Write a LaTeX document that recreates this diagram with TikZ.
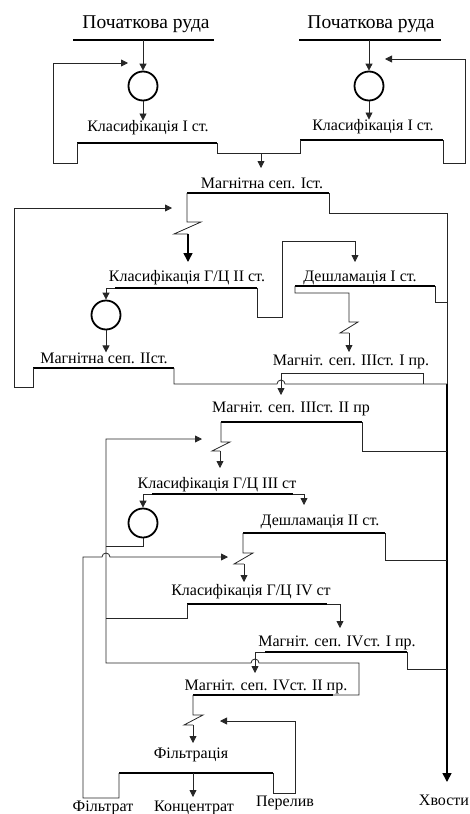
\documentclass[tikz,border=0pt]{standalone}
\usepackage{fontspec}
\setmainfont{Liberation Serif}
\usetikzlibrary{arrows.meta}

\begin{document}
\begin{tikzpicture}[x=1pt,y=-1pt,
  prod/.style={line width=1.6pt},
  flow/.style={line width=0.8pt, black!85},
  feed/.style={flow, -{Triangle[length=7pt,width=7pt]}},
  feedT/.style={prod, -{Triangle[length=9pt,width=9pt]}},
  mill/.style={circle, draw, line width=1.8pt, minimum size=29pt, inner sep=0pt},
  lbl/.style={font=\fontsize{16}{18}\selectfont, inner sep=0pt},
  big/.style={font=\fontsize{19.5}{22}\selectfont, inner sep=0pt}]
\useasboundingbox (0,0) rectangle (470,814);
% feed ore
\node[big] (oreL) at (146,24) {Початкова руда};
\node[big] (oreR) at (371,24) {Початкова руда};
\coordinate (oreLa) at (73,40); \coordinate (oreLb) at (214,40);
\coordinate (oreRa) at (299,40); \coordinate (oreRb) at (441,40);
\draw[prod] (oreLa) -- (oreLb);
\draw[prod] (oreRa) -- (oreRb);
% mills, stage I
\node[mill] (millL) at (143,86) {};
\node[mill] (millR) at (369,86) {};
\draw[feed] (millL |- oreLa) -- (millL.north);
\draw[feed] (millR |- oreRa) -- (millR.north);
% classification, stage I
\node[lbl] (clsL) at (148,128) {Класифікація I ст.};
\node[lbl] (clsR) at (373,127) {Класифікація I ст.};
\coordinate (clsLa) at (77,143); \coordinate (clsLb) at (217,143);
\coordinate (clsRa) at (300,140); \coordinate (clsRb) at (443,140);
\draw[prod] (clsLa) -- (clsLb);
\draw[prod] (clsRa) -- (clsRb);
\draw[feed] (millL.south) -- (millL |- clsL.north);
\draw[feed] (millR.south) -- (millR |- clsR.north);
% sands back to the mills
\coordinate (inL) at (128,63); \coordinate (inR) at (385,59);
\draw[feed] (clsLa) -- ++(0,20) -- ++(-24,0) |- (inL);
\draw[feed] (clsRb) -- ++(0,23) -- ++(22,0) |- (inR);
% overflow to magnetic sep. I
\coordinate (ovf1) at (261,153);
\draw[flow] (clsLb) -- ++(0,10) -| (clsRa);
\draw[feed] (ovf1) -- ++(0,15);
% magnetic sep. I
\node[lbl] (ms1) at (262,183) {Магнітна сеп. Іст.};
\coordinate (ms1a) at (187,193); \coordinate (ms1b) at (329,193);
\coordinate (tail) at (447,213); \coordinate (tailj) at (447,384);
\draw[prod] (ms1a) -- (ms1b);
\draw[flow] (ms1b) |- (tail) -- (tailj);
\draw[feedT] (tailj) -- (447,782);
\node[lbl] (tails) at (444,800) {Хвости};
\draw[flow] (ms1a) -- ++(0,29) -- ++(14,0) -- ++(-27,12) -- ++(14,0) coordinate (z1);
\draw[feedT] (z1) -- ++(0,28);
% hydrocyclones II
\node[lbl] (hc2) at (187,278) {Класифікація Г/Ц II ст.};
\coordinate (hc2a) at (115,288); \coordinate (hc2b) at (257,288);
\draw[prod] (hc2a) -- (hc2b);
\node[mill] (mill2) at (106,315) {};
\draw[feed] (hc2a) -| (mill2.north);
\draw[feed] (hc2b) -- ++(0,29) -- ++(25,0) |- (355,241) -- ++(0,21);
% desliming I
\node[lbl] (dsl1) at (360,278) {Дешламація I ст.};
\coordinate (dsl1a) at (295,286); \coordinate (dsl1b) at (435,286);
\draw[prod] (dsl1a) -- (dsl1b);
\draw[flow] (dsl1b) -- ++(0,16) -- (447,302);
\draw[flow] (dsl1a) -- ++(0,7) -| (349,322) -- ++(9,0) -- ++(-18,11) -- ++(9,0) coordinate (z2);
\draw[feed] (z2) -- ++(0,19);
% magnetic sep. II
\node[lbl] (ms2) at (104,358) {Магнітна сеп. IIст.};
\coordinate (ms2a) at (33,368); \coordinate (ms2b) at (174,368);
\coordinate (in2) at (172,208);
\draw[prod] (ms2a) -- (ms2b);
\draw[feed] (mill2.south) -- (mill2 |- ms2.north);
\draw[feed] (ms2a) -- ++(0,19) -- (14,387) |- (in2);
\draw[flow] (ms2b) -- ++(0,16) -- (277,384) arc[start angle=180,end angle=360,radius=4] -- (tailj);
% magnetic sep. III, I
\node[lbl] (ms31) at (351,362) {Магніт. сеп. IIIст. I пр.};
\coordinate (ms31a) at (281,373); \coordinate (ms31b) at (423,373);
\draw[flow] (ms31a) -- (ms31b) -- ++(0,11);
\draw[feed] (ms31a) -- ++(0,22);
% magnetic sep. III, II
\node[lbl] (ms32) at (291,409) {Магніт. сеп. IIIст. II пр};
\coordinate (ms32a) at (221,422); \coordinate (ms32b) at (362,422);
\draw[prod] (ms32a) -- (ms32b);
\draw[flow] (ms32b) |- (447,451);
\draw[flow] (ms32a) -- ++(0,20) -- ++(9,0) -- ++(-18,9) -- ++(8,0) coordinate (z3);
\draw[feed] (z3) -- ++(0,17);
% hydrocyclones III
\node[lbl] (hc3) at (217,485) {Класифікація Г/Ц III ст};
\coordinate (hc3a) at (152,494); \coordinate (hc3b) at (293,494);
\draw[prod] (hc3a) -- (hc3b);
\node[mill] (mill3) at (143,523) {};
\draw[feed] (hc3a) -| (mill3.north);
\draw[flow] (mill3.south) |- (106,546);
\draw[feed] (hc3b) -| (304,505);
% desliming II
\node[lbl] (dsl2) at (320,522) {Дешламація II ст.};
\coordinate (dsl2a) at (243,533); \coordinate (dsl2b) at (385,533);
\draw[prod] (dsl2a) -- (dsl2b);
\draw[flow] (dsl2b) |- (447,560);
\draw[flow] (dsl2a) -- ++(0,20) -- ++(10,0) -- ++(-19,11) -- ++(10,0) coordinate (z4);
\draw[feed] (z4) -- ++(0,18);
% hydrocyclones IV
\node[lbl] (hc4) at (251,592) {Класифікація Г/Ц IV ст};
\coordinate (hc4a) at (187,604); \coordinate (hc4b) at (327,604);
\draw[prod] (hc4a) -- (hc4b);
\draw[flow] (hc4a) |- (106,618);
\draw[feed] (hc4b) -| (340,628);
% magnetic sep. IV, I
\node[lbl] (ms41) at (337,643) {Магніт. сеп. IVст. I пр.};
\coordinate (ms41a) at (265,652); \coordinate (ms41b) at (407,652);
\draw[prod] (ms41a) -- (ms41b);
\draw[flow] (ms41b) |- (447,669);
\draw[feed] (ms41a) -| (255,673);
% magnetic sep. IV, II
\node[lbl] (ms42) at (266,687) {Магніт. сеп. IVст. II пр.};
\coordinate (ms42a) at (193,695); \coordinate (ms42b) at (333,695);
\coordinate (in3) at (202,439);
\draw[prod] (ms42a) -- (ms42b);
\draw[feed] (ms42b) -- (359,695) -- (359,663) -- (259,663) arc[start angle=360,end angle=180,radius=4] -- (106,663) |- (in3);
\draw[flow] (ms42a) -- ++(0,20) -- ++(10,0) -- ++(-19,10) -- ++(9,0) coordinate (z5);
\draw[feed] (z5) -- ++(0,18);
% filtration
\node[lbl] (flt) at (191,755) {Фільтрація};
\coordinate (flta) at (119,773); \coordinate (fltb) at (273,773);
\coordinate (in4) at (228,557); \coordinate (in5) at (220,721);
\draw[prod] (flta) -- (fltb);
\draw[feed] (flta) -- (119,798) -- (83,798) -- (83,557) -- (102,557) arc[start angle=180,end angle=360,radius=4] -- (in4);
\draw[feed] (fltb) -- ++(0,20) -- (295,793) |- (in5);
\draw[feed] (193,773) -- (193,797);
\node[lbl] (filtr) at (103,808) {Фільтрат};
\node[lbl] (conc) at (194,808) {Концентрат};
\node[lbl] (over) at (285,803) {Перелив};
\end{tikzpicture}
\end{document}
